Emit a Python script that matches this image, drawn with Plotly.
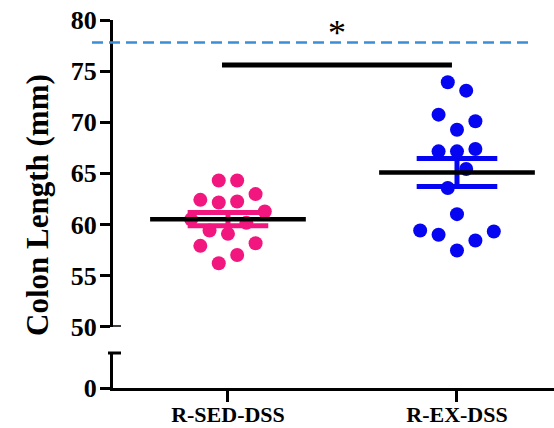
import plotly.graph_objects as go

# ---- data ----
categories = ["R-SED-DSS", "R-EX-DSS"]
sed_values = [64.30, 64.30, 62.41, 62.15, 62.25, 62.97, 61.27, 60.50, 59.41, 59.08,
              60.16, 57.91, 58.17, 57.02, 56.21]
sed_slots = [-1, 1, -3, -1, 1, 3, 4, -4, -2, 0, 2, -3, 3, 1, -1]
ex_values = [73.91, 73.09, 70.74, 70.09, 69.27, 67.15, 67.15, 67.38, 65.42, 63.56,
             61.01, 59.41, 58.99, 59.31, 58.43, 57.45]
ex_slots = [-1, 1, -2, 2, 0, -2, 0, 2, 1, -1, 0, -4, -2, 4, 2, 0]
group_means = [60.52, 65.09]
group_sems = [0.64, 1.37]
reference_line = 77.8      # dashed reference level
sig_bar_level = 75.6
sig_label = "*"
y_ticks_top = [50, 55, 60, 65, 70, 75, 80]
y_ticks_bottom = [0]

colors = ["#F2167F", "#0505F2"]
dash_color = "#3B8ED5"
FONT = "Liberation Serif, Times New Roman, serif"

slot_step = 0.0402
mean_half = 0.34
cap_half = 0.176

fig = go.Figure()

groups = [(sed_values, sed_slots), (ex_values, ex_slots)]
for i, (vals, slots) in enumerate(groups):
    fig.add_trace(go.Scatter(
        x=[i + s * slot_step for s in slots], y=vals, mode="markers",
        marker=dict(size=14, color=colors[i], line=dict(width=0)),
        xaxis="x", yaxis="y", showlegend=False, hoverinfo="y"))

for i in range(2):
    m, s = group_means[i], group_sems[i]
    fig.add_trace(go.Scatter(
        x=[i - cap_half, i + cap_half, None, i - cap_half, i + cap_half, None, i, i],
        y=[m + s, m + s, None, m - s, m - s, None, m + s, m - s],
        mode="lines", line=dict(color=colors[i], width=5),
        xaxis="x", yaxis="y", showlegend=False, hoverinfo="skip"))
    fig.add_trace(go.Scatter(
        x=[i - mean_half, i + mean_half], y=[m, m], mode="lines",
        line=dict(color="black", width=4.5),
        xaxis="x", yaxis="y", showlegend=False, hoverinfo="skip"))

# significance bar
fig.add_trace(go.Scatter(
    x=[-0.026, 0.978], y=[sig_bar_level, sig_bar_level], mode="lines",
    line=dict(color="black", width=5), xaxis="x", yaxis="y",
    showlegend=False, hoverinfo="skip"))

# invisible trace so the lower (broken) axis segment exists
fig.add_trace(go.Scatter(x=[0], y=[0], mode="markers", marker=dict(opacity=0),
                         xaxis="x", yaxis="y2", showlegend=False, hoverinfo="skip"))

W, H = 554, 428
ml, mr, mt, mb = 113, 0, 20, 40
pw = W - ml - mr
ph = H - mt - mb
y2_top_px = 353
y1_bot_px = 326.7
bottom_px = H - mb
d2 = (bottom_px - y2_top_px) / ph
d1 = (bottom_px - y1_bot_px) / ph

tickfont_y = dict(family=FONT, size=26, color="black")
tickfont_x = dict(family=FONT, size=22, color="black")

def yax(**kw):
    base = dict(showline=True, linewidth=3, linecolor="black", ticks="outside",
                tickwidth=3, tickcolor="black", ticklen=10, showgrid=False,
                zeroline=False, tickfont=tickfont_y, anchor="x", fixedrange=True,
                automargin=False, ticklabelstandoff=-2)
    base.update(kw)
    return base

fig.update_layout(
    width=W, height=H, margin=dict(l=ml, r=mr, t=mt, b=mb),
    plot_bgcolor="white", paper_bgcolor="white", showlegend=False,
    font=dict(family=FONT, color="black"),
    xaxis=dict(range=[-0.502, 1.4236], tickvals=[0, 1],
               ticktext=["<b>%s</b>" % c for c in categories],
               anchor="y2", showline=True, linewidth=3, linecolor="black",
               ticks="outside", tickwidth=3, tickcolor="black", ticklen=11,
               ticklabelstandoff=-6, automargin=False,
               showgrid=False, zeroline=False, tickfont=tickfont_x, fixedrange=True),
    yaxis=yax(domain=[d1, 1], range=[50, 80], tickvals=y_ticks_top,
              ticktext=["<b>%d</b>" % v for v in y_ticks_top]),
    yaxis2=yax(domain=[0, d2], range=[0, 1], tickvals=y_ticks_bottom,
               ticktext=["<b>%d</b>" % v for v in y_ticks_bottom]),
)

px2paper_x = lambda px: (px - ml) / pw
shapes = [
    dict(type="line", xref="paper", yref="y", x0=px2paper_x(92), x1=px2paper_x(533),
         y0=reference_line, y1=reference_line,
         line=dict(color=dash_color, width=2.5, dash="11px,6px")),
    dict(type="line", xref="paper", yref="y", x0=px2paper_x(111.5), x1=px2paper_x(121),
         y0=50, y1=50, line=dict(color="black", width=3)),
    dict(type="line", xref="paper", yref="y2 domain", x0=px2paper_x(108), x1=px2paper_x(121),
         y0=1, y1=1, line=dict(color="black", width=3)),
]
fig.update_layout(shapes=shapes)

fig.add_annotation(x=0.476, y=78.75, xref="x", yref="y", text=sig_label,
                   xanchor="center", yanchor="middle",
                   showarrow=False, font=dict(family=FONT, size=36, color="black"))
fig.add_annotation(x=px2paper_x(37), y=(bottom_px - 205) / ph, xref="paper", yref="paper",
                   xanchor="center", yanchor="middle",
                   text="<b>Colon Length (mm)</b>", textangle=-90, showarrow=False,
                   font=dict(family=FONT, size=31, color="black"))

fig.write_html("out.html", config={"displayModeBar": False},
               post_script="document.body.style.margin='0';document.body.style.overflow='hidden';")
